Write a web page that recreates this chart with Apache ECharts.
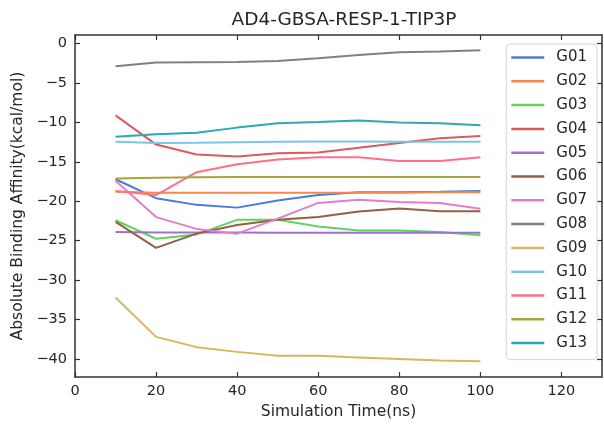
<!DOCTYPE html>
<html>
<head>
<meta charset="utf-8">
<title>AD4-GBSA-RESP-1-TIP3P</title>
<script src="https://cdn.jsdelivr.net/npm/echarts@6.0.0/dist/echarts.min.js"></script>
<style>
  html, body { margin: 0; padding: 0; background: #fff; }
  #chart { width: 604px; height: 425px; }
</style>
</head>
<body>
<div id="chart"></div>
<script>
// 시뮬레이션 시간(ns)별 결합 친화도 — 그림에서 읽은 값

const times = [10, 20, 30, 40, 50, 60, 70, 80, 90, 100];

const names = ["G01", "G02", "G03", "G04", "G05", "G06", "G07",
               "G08", "G09", "G10", "G11", "G12", "G13"];

const g01 = [-17.2, -19.6, -20.45, -20.8, -19.9, -19.2, -18.85, -18.85, -18.8, -18.7];
const g02 = [-18.8, -18.9, -18.9, -18.9, -18.9, -18.9, -18.9, -18.9, -18.85, -18.85];
const g03 = [-22.4, -24.75, -24.2, -22.35, -22.35, -23.2, -23.7, -23.7, -23.9, -24.3];
const g04 = [-9.1, -12.8, -14.05, -14.3, -13.9, -13.8, -13.2, -12.6, -12.0, -11.7];
const g05 = [-23.9, -23.95, -23.95, -23.95, -24.0, -24.0, -24.0, -24.0, -24.0, -24.0];
const g06 = [-22.6, -25.9, -24.1, -23.0, -22.35, -22.0, -21.3, -20.9, -21.25, -21.25];
const g07 = [-17.4, -22.0, -23.5, -24.1, -22.2, -20.2, -19.8, -20.1, -20.2, -20.95];
const g08 = [-2.86, -2.4, -2.36, -2.32, -2.2, -1.85, -1.45, -1.1, -1.0, -0.85];
const g09 = [-32.2, -37.2, -38.5, -39.1, -39.6, -39.6, -39.8, -40.0, -40.2, -40.3];
const g10 = [-12.45, -12.6, -12.57, -12.5, -12.45, -12.4, -12.42, -12.45, -12.45, -12.45];
const g11 = [-18.7, -19.2, -16.3, -15.3, -14.7, -14.4, -14.4, -14.9, -14.9, -14.4];
const g12 = [-17.1, -17.0, -16.95, -16.9, -16.9, -16.9, -16.9, -16.9, -16.9, -16.9];
const g13 = [-11.8, -11.5, -11.3, -10.65, -10.1, -9.95, -9.75, -10.0, -10.1, -10.35];

const values = [g01, g02, g03, g04, g05, g06, g07, g08, g09, g10, g11, g12, g13];

const colors = ["#4a7bd6", "#f5894a", "#62d262", "#dc5a5a", "#9d72c9", "#946042", "#e27dcc",
                "#808080", "#d6b85c", "#7cc4e4", "#ff7088", "#a6a53a", "#2aabb0"];

const xTicks = [0, 20, 40, 60, 80, 100, 120];
const yTicks = [0, -5, -10, -15, -20, -25, -30, -35, -40];

const FONT = "DejaVu Sans";
const INK = "#262626";
const FRAME = "#333";

// 축 공통 스타일 (안쪽 눈금, 네 변 모두)
function tickStyle(ticks) {
  return { show: true, inside: true, length: 5, customValues: ticks, lineStyle: { color: FRAME, width: 1.2 } };
}

function frameLine() {
  return { show: true, onZero: false, lineStyle: { color: FRAME, width: 1.5 } };
}

const chart = echarts.init(document.getElementById("chart"), null, { renderer: "canvas" });

chart.setOption({
  animation: false,
  backgroundColor: "#fff",
  color: colors,
  title: {
    text: "AD4-GBSA-RESP-1-TIP3P",
    left: 339, textAlign: "center", top: 6,
    textStyle: { fontFamily: FONT, fontSize: 18.5, fontWeight: "normal", color: INK }
  },
  grid: { left: 75, right: 2, top: 35, bottom: 46 },
  legend: {
    orient: "vertical",
    right: 7, top: 44,
    icon: "rect",
    itemWidth: 33, itemHeight: 2.5,
    itemGap: 6.8,
    padding: [5, 10, 8, 5],
    backgroundColor: "rgba(255,255,255,0.8)",
    borderColor: "#d6d6d6", borderWidth: 1, borderRadius: 4,
    textStyle: { fontFamily: FONT, fontSize: 15, color: INK, lineHeight: 17, padding: [0, 0, 0, 7] },
    data: names
  },
  xAxis: [{
    type: "value", min: 0, max: 130, position: "bottom",
    name: "Simulation Time(ns)", nameLocation: "middle", nameGap: 25,
    nameTextStyle: { fontFamily: FONT, fontSize: 15.5, color: INK },
    axisLine: frameLine(),
    axisTick: tickStyle(xTicks),
    axisLabel: { customValues: xTicks, fontFamily: FONT, fontSize: 14.5, color: INK, margin: 7 },
    splitLine: { show: false }
  }, {
    type: "value", min: 0, max: 130, position: "top",
    axisLine: frameLine(),
    axisTick: tickStyle(xTicks),
    axisLabel: { show: false },
    splitLine: { show: false }
  }],
  yAxis: [{
    type: "value", min: -42.3, max: 1.1, position: "left",
    name: "Absolute Binding Affinity(kcal/mol)", nameLocation: "middle", nameGap: 42,
    nameTextStyle: { fontFamily: FONT, fontSize: 15.5, color: INK },
    axisLine: frameLine(),
    axisTick: tickStyle(yTicks),
    axisLabel: {
      customValues: yTicks, fontFamily: FONT, fontSize: 14.5, color: INK, margin: 8,
      formatter: (v) => String(v).replace("-", "\u2212")
    },
    splitLine: { show: false }
  }, {
    type: "value", min: -42.3, max: 1.1, position: "right",
    axisLine: frameLine(),
    axisTick: tickStyle(yTicks),
    axisLabel: { show: false },
    splitLine: { show: false }
  }],
  series: names.map((name, i) => ({
    name,
    type: "line",
    xAxisIndex: 0,
    yAxisIndex: 0,
    data: times.map((t, j) => [t, values[i][j]]),
    symbol: "none",
    lineStyle: { width: 2, color: colors[i] },
    itemStyle: { color: colors[i] }
  }))
});
</script>
</body>
</html>
